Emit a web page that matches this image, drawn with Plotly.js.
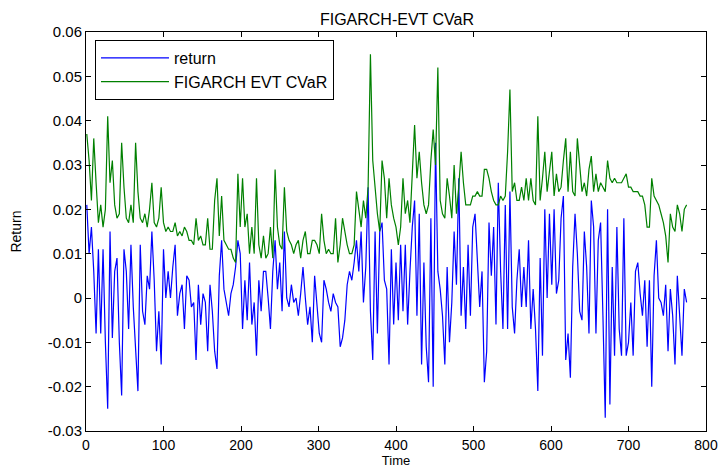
<!DOCTYPE html>
<html>
<head>
<meta charset="utf-8">
<script src="https://cdn.plot.ly/plotly-3.0.1.min.js"></script>
<style>html,body{margin:0;padding:0;background:#fff;}#chart{width:721px;height:468px;}</style>
</head>
<body>
<div id="chart"></div>
<script>
// Time axis: first observation and sampling step
var timeStart = 1;
var timeStep = 3;

// return series (sampled every 3 time steps)
var returnValues = [
  0.021, 0.010, 0.016, 0.006, -0.008, 0.011, -0.008, 0.011, -0.010, -0.025,
  0.015, -0.009, 0.006, 0.009, -0.010, -0.022, 0.011, 0.006, -0.007, 0.012,
  -0.002, -0.013, -0.021, 0.012, -0.003, -0.006, 0.005, 0.002, 0.015, 0.004,
  -0.012, -0.003, -0.015, 0.011, 0.000, 0.006, 0.000, 0.007, 0.012, -0.004,
  0.001, 0.003, -0.007, 0.005, 0.004, -0.002, -0.001, -0.014, 0.003, -0.006,
  0.001, -0.001, -0.012, 0.003, -0.003, -0.012, -0.016, 0.005, 0.013, 0.002,
  -0.001, -0.004, 0.001, 0.003, 0.007, 0.013, 0.010, -0.007, 0.004, -0.005,
  0.008, -0.006, -0.001, -0.013, 0.004, -0.003, 0.006, 0.006, 0.000, -0.007,
  0.006, 0.013, 0.002, 0.008, -0.003, 0.015, 0.000, -0.002, 0.003, -0.001,
  0.000, -0.004, 0.001, 0.007, 0.000, -0.006, -0.002, -0.010, 0.005, -0.002,
  -0.008, -0.010, 0.004, 0.002, -0.001, -0.003, 0.001, -0.001, -0.002, -0.011,
  -0.009, -0.005, 0.003, 0.006, 0.004, 0.008, 0.013, 0.006, 0.015, -0.001,
  0.007, 0.025, -0.003, -0.014, 0.015, -0.008, 0.015, 0.017, 0.004, 0.002,
  -0.015, 0.011, -0.006, 0.008, -0.005, 0.012, -0.003, 0.012, -0.006, 0.006,
  0.016, 0.022, -0.004, 0.019, -0.015, 0.008, -0.011, -0.019, 0.018, -0.020,
  0.035, 0.006, 0.002, -0.004, -0.015, 0.007, -0.010, -0.001, 0.015, 0.003,
  0.027, -0.004, 0.007, -0.007, 0.012, -0.004, 0.016, 0.019, 0.009, -0.002,
  0.006, -0.019, -0.012, 0.017, 0.005, 0.016, -0.006, 0.026, 0.006, -0.007,
  0.021, -0.007, 0.024, -0.002, -0.008, 0.004, 0.011, -0.002, 0.007, -0.002,
  0.013, -0.007, 0.002, -0.007, -0.021, 0.009, -0.013, 0.020, 0.000, 0.019,
  0.003, 0.020, 0.001, 0.004, 0.018, 0.023, -0.014, -0.008, -0.018, 0.007,
  0.019, 0.010, -0.003, -0.005, 0.015, 0.007, -0.008, 0.022, 0.016, -0.008,
  0.013, 0.017, -0.004, -0.027, 0.020, -0.024, 0.007, -0.013, 0.016, -0.007,
  -0.013, 0.018, -0.013, -0.010, -0.001, -0.013, 0.006, 0.008, 0.001, -0.004,
  0.004, -0.011, 0.004, -0.020, 0.005, 0.013, 0.000, -0.001, -0.004, 0.003,
  -0.012, 0.002, -0.004, -0.015, 0.005, -0.004, -0.013, 0.002, -0.001
];

// FIGARCH EVT CVaR series (sampled every 3 time steps)
var cvarValues = [
  0.037, 0.031, 0.022, 0.036, 0.026, 0.017, 0.021, 0.016, 0.020, 0.041,
  0.026, 0.031, 0.021, 0.018, 0.019, 0.035, 0.025, 0.018, 0.017, 0.021,
  0.017, 0.035, 0.024, 0.018, 0.017, 0.019, 0.016, 0.020, 0.026, 0.017,
  0.016, 0.018, 0.025, 0.017, 0.015, 0.016, 0.015, 0.015, 0.017, 0.014,
  0.015, 0.014, 0.016, 0.015, 0.013, 0.013, 0.012, 0.018, 0.013, 0.014,
  0.012, 0.012, 0.018, 0.011, 0.011, 0.022, 0.027, 0.014, 0.023, 0.013,
  0.012, 0.011, 0.011, 0.009, 0.008, 0.028, 0.016, 0.027, 0.016, 0.019,
  0.010, 0.016, 0.010, 0.027, 0.012, 0.009, 0.014, 0.009, 0.010, 0.016,
  0.009, 0.029, 0.016, 0.012, 0.011, 0.025, 0.015, 0.013, 0.012, 0.010,
  0.012, 0.013, 0.009, 0.013, 0.015, 0.010, 0.010, 0.013, 0.013, 0.012,
  0.010, 0.019, 0.013, 0.010, 0.011, 0.010, 0.010, 0.018, 0.008, 0.012,
  0.018, 0.015, 0.012, 0.010, 0.010, 0.012, 0.024, 0.020, 0.016, 0.022,
  0.018, 0.025, 0.055, 0.031, 0.025, 0.019, 0.015, 0.031, 0.027, 0.018,
  0.027, 0.021, 0.018, 0.016, 0.012, 0.016, 0.027, 0.019, 0.022, 0.017,
  0.028, 0.039, 0.027, 0.033, 0.026, 0.021, 0.019, 0.021, 0.031, 0.038,
  0.030, 0.052, 0.022, 0.019, 0.018, 0.027, 0.023, 0.018, 0.030, 0.019,
  0.025, 0.033, 0.026, 0.021, 0.021, 0.021, 0.023, 0.023, 0.024, 0.023,
  0.023, 0.029, 0.029, 0.027, 0.024, 0.022, 0.021, 0.021, 0.023, 0.022,
  0.023, 0.033, 0.047, 0.024, 0.026, 0.022, 0.022, 0.025, 0.022, 0.027,
  0.022, 0.027, 0.022, 0.021, 0.041, 0.022, 0.027, 0.033, 0.024, 0.029,
  0.033, 0.023, 0.028, 0.024, 0.025, 0.031, 0.036, 0.024, 0.033, 0.024,
  0.023, 0.036, 0.029, 0.024, 0.026, 0.023, 0.029, 0.032, 0.024, 0.028,
  0.024, 0.026, 0.025, 0.024, 0.031, 0.027, 0.026, 0.027, 0.026, 0.026,
  0.026, 0.027, 0.028, 0.025, 0.025, 0.024, 0.024, 0.024, 0.023, 0.023,
  0.021, 0.016, 0.016, 0.027, 0.023, 0.022, 0.021, 0.019, 0.017, 0.014,
  0.008, 0.019, 0.016, 0.015, 0.021, 0.019, 0.015, 0.020, 0.021
];

// Axis ticks
var xTickValues = [0, 100, 200, 300, 400, 500, 600, 700, 800];
var yTickValues = [-0.03, -0.02, -0.01, 0, 0.01, 0.02, 0.03, 0.04, 0.05, 0.06];
var yTickLabels = ["-0.03", "-0.02", "-0.01", "0", "0.01", "0.02", "0.03", "0.04", "0.05", "0.06"];

var FONT = "Liberation Sans, Arial, Helvetica, sans-serif";

var traces = [
  {
    type: "scatter", mode: "lines", name: "return",
    x0: timeStart, dx: timeStep, y: returnValues,
    line: {color: "rgb(0,0,255)", width: 1.2}
  },
  {
    type: "scatter", mode: "lines", name: "FIGARCH EVT CVaR",
    x0: timeStart, dx: timeStep, y: cvarValues,
    line: {color: "rgb(0,128,0)", width: 1.2}
  }
];

var axisCommon = {
  showgrid: false, zeroline: false,
  showline: true, linecolor: "#000", linewidth: 1, mirror: "ticks",
  ticks: "inside", ticklen: 5, tickwidth: 1, tickcolor: "#000"
};

var layout = {
  width: 721, height: 468,
  paper_bgcolor: "#fff", plot_bgcolor: "#fff",
  margin: {l: 86, r: 15, t: 32, b: 37},
  title: {text: "FIGARCH-EVT CVaR", font: {family: FONT, size: 16, color: "#000"}, x: 0.5506, xanchor: "center", y: 0.958, yanchor: "middle"},
  showlegend: true,
  legend: {
    x: 0.0145, y: 0.98, xanchor: "left", yanchor: "top",
    bordercolor: "#000", borderwidth: 1, bgcolor: "#fff",
    itemwidth: 68, tracegroupgap: 0,
    font: {family: FONT, size: 16, color: "#000"}
  },
  xaxis: Object.assign({}, axisCommon, {
    range: [0, 800], tickvals: xTickValues, ticklabelstandoff: 1,
    tickfont: {family: FONT, size: 14, color: "#000"},
    title: {text: "Time", font: {family: FONT, size: 13, color: "#000"}, standoff: 4}
  }),
  yaxis: Object.assign({}, axisCommon, {
    range: [-0.03, 0.06], tickvals: yTickValues, ticktext: yTickLabels,
    tickfont: {family: FONT, size: 15, color: "#000"},
    title: {text: "Return", font: {family: FONT, size: 14, color: "#000"}, standoff: 22}
  })
};

Plotly.newPlot("chart", traces, layout, {displayModeBar: false, staticPlot: true});
</script>
</body>
</html>
